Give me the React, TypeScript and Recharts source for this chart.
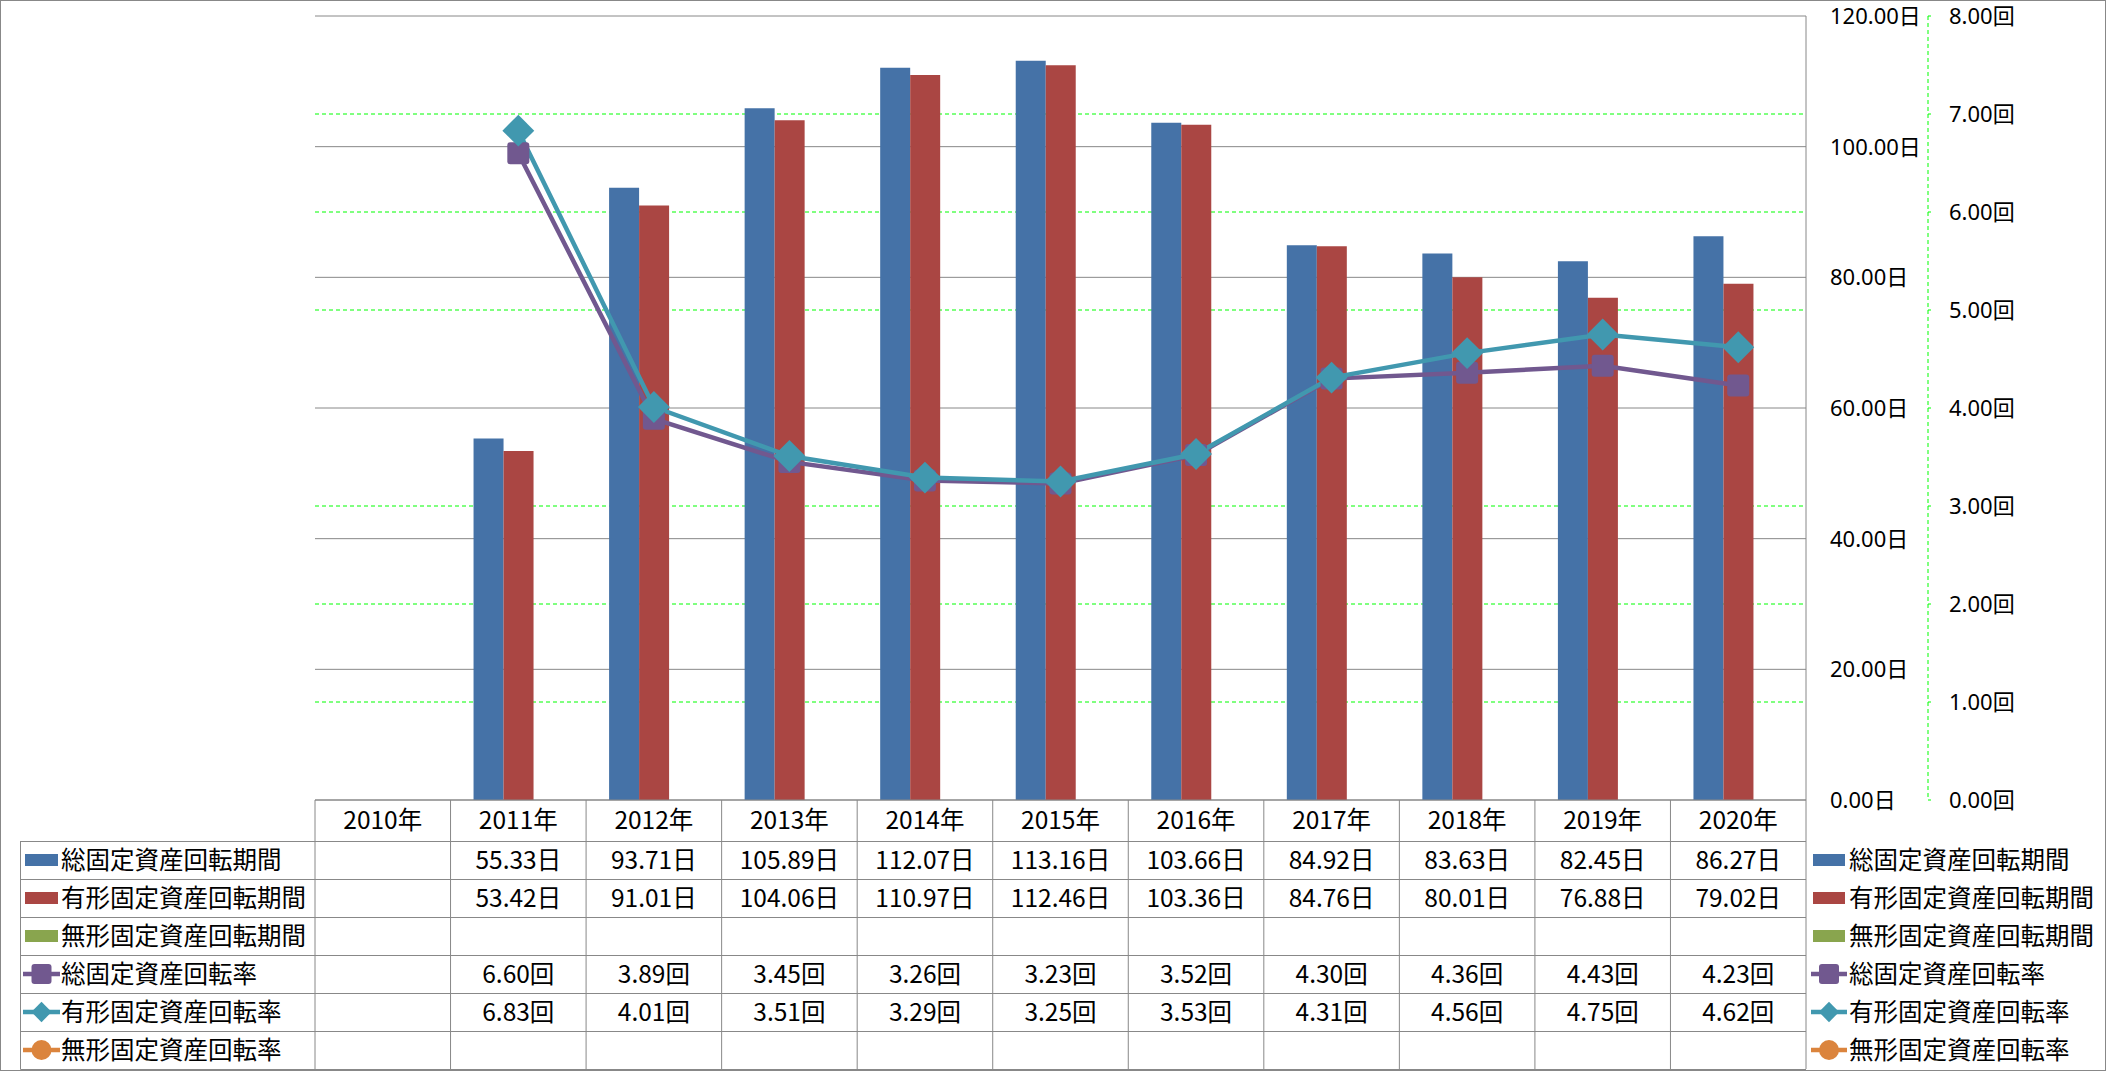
import React from 'react';
import { ComposedChart, Bar, Line, XAxis, YAxis, CartesianGrid } from 'recharts';

// ---------- data ----------
const years = ['2010年', '2011年', '2012年', '2013年', '2014年', '2015年', '2016年', '2017年', '2018年', '2019年', '2020年'];
const totalDays: (number | null)[] = [null, 55.33, 93.71, 105.89, 112.07, 113.16, 103.66, 84.92, 83.63, 82.45, 86.27];
const tangibleDays: (number | null)[] = [null, 53.42, 91.01, 104.06, 110.97, 112.46, 103.36, 84.76, 80.01, 76.88, 79.02];
const intangibleDays: (number | null)[] = [null, null, null, null, null, null, null, null, null, null, null];
const totalTurnover: (number | null)[] = [null, 6.6, 3.89, 3.45, 3.26, 3.23, 3.52, 4.3, 4.36, 4.43, 4.23];
const tangibleTurnover: (number | null)[] = [null, 6.83, 4.01, 3.51, 3.29, 3.25, 3.53, 4.31, 4.56, 4.75, 4.62];
const intangibleTurnover: (number | null)[] = [null, null, null, null, null, null, null, null, null, null, null];
const dayTicks = [0, 20, 40, 60, 80, 100, 120];
const timeTicks = [0, 1, 2, 3, 4, 5, 6, 7, 8];
const timeGridValues = [1, 2, 3, 5, 6, 7];

const seriesRows = [
  { name: '総固定資産回転期間', kind: 'bar', color: '#4572A7', values: totalDays, unit: '日' },
  { name: '有形固定資産回転期間', kind: 'bar', color: '#AA4643', values: tangibleDays, unit: '日' },
  { name: '無形固定資産回転期間', kind: 'bar', color: '#89A54E', values: intangibleDays, unit: '日' },
  { name: '総固定資産回転率', kind: 'square', color: '#71588F', values: totalTurnover, unit: '回' },
  { name: '有形固定資産回転率', kind: 'diamond', color: '#4198AF', values: tangibleTurnover, unit: '回' },
  { name: '無形固定資産回転率', kind: 'circle', color: '#DB843D', values: intangibleTurnover, unit: '回' },
];

const data = years.map((y, i) => ({
  year: y,
  totalDays: totalDays[i],
  tangibleDays: tangibleDays[i],
  intangibleDays: intangibleDays[i],
  totalTurnover: totalTurnover[i],
  tangibleTurnover: tangibleTurnover[i],
  intangibleTurnover: intangibleTurnover[i],
}));

// ---------- layout ----------
const W = 2106;
const H = 1071;
const PLOT_LEFT = 315;
const PLOT_RIGHT = 1806;
const PLOT_BOTTOM = 800;
const BAND = (PLOT_RIGHT - PLOT_LEFT) / years.length;
const ROW_LINES = [800, 841, 879, 917, 955, 993, 1031, 1069];
const rowCenter = (k: number) => (ROW_LINES[k] + ROW_LINES[k + 1]) / 2;
const GRAY = '#888888';
const GREEN = '#00FF00';
const TABLE_FONT = '"Noto Sans CJK JP", "Noto Sans", sans-serif';
const AXIS_FONT = '"Noto Sans", "Noto Sans CJK JP", sans-serif';
const TABLE_FS = 24.5;

const fmt = (v: number, unit: string) => v.toFixed(2) + unit;

// ---------- markers ----------
const markerShape = (kind: string, cx: number, cy: number, color: string, s: number) => {
  if (kind === 'square')
    return <rect x={cx - s} y={cy - s} width={2 * s} height={2 * s} rx={3} fill={color} />;
  if (kind === 'diamond')
    return (
      <polygon
        points={`${cx},${cy - s * 1.45} ${cx + s * 1.45},${cy} ${cx},${cy + s * 1.45} ${cx - s * 1.45},${cy}`}
        fill={color}
      />
    );
  return <circle cx={cx} cy={cy} r={s} fill={color} />;
};

const makeDot = (kind: string, color: string) => (props: any) => {
  const { cx, cy, index } = props;
  if (cx == null || cy == null || Number.isNaN(cx) || Number.isNaN(cy) || props.value == null)
    return <g key={`d-${kind}-${index}`} />;
  return <g key={`d-${kind}-${index}`}>{markerShape(kind, cx, cy, color, 11)}</g>;
};

// ---------- axis ticks ----------
const DaysTick = (props: any) => {
  const { x, y, payload } = props;
  return (
    <text x={x} y={y} dy="0.36em" textAnchor="start" fontFamily={AXIS_FONT} fontSize={22} fill="#000">
      {fmt(payload.value, '日')}
    </text>
  );
};

const TimesTick = (props: any) => {
  const { x, y, payload } = props;
  return (
    <text x={x} y={y} dy="0.36em" textAnchor="start" fontFamily={AXIS_FONT} fontSize={22} fill="#000">
      {fmt(payload.value, '回')}
    </text>
  );
};

// X axis tick draws one whole table column
const TableColumn = (props: any) => {
  const { x, payload } = props;
  const i: number = payload && payload.index != null ? payload.index : props.index;
  const left = x - BAND / 2;
  const right = x + BAND / 2;
  return (
    <g>
      <line x1={left} x2={left} y1={PLOT_BOTTOM} y2={1069} stroke={GRAY} strokeWidth={1} />
      {i === years.length - 1 && (
        <line x1={right} x2={right} y1={PLOT_BOTTOM} y2={1069} stroke={GRAY} strokeWidth={1} />
      )}
      <text x={x} y={rowCenter(0)} dy="0.36em" textAnchor="middle" fontFamily={TABLE_FONT} fontSize={TABLE_FS} fill="#000">
        {years[i]}
      </text>
      {seriesRows.map((r, k) => {
        const v = r.values[i];
        if (v == null) return null;
        return (
          <text
            key={r.name}
            x={x}
            y={rowCenter(k + 1)}
            dy="0.36em"
            textAnchor="middle"
            fontFamily={TABLE_FONT}
            fontSize={TABLE_FS}
            fill="#000"
          >
            {fmt(v, r.unit)}
          </text>
        );
      })}
    </g>
  );
};

// legend key (bar rect or line with marker)
const LegendKey = ({ kind, color, x1, x2, cy }: any) => {
  if (kind === 'bar') return <rect x={x1 + 2} y={cy - 6} width={x2 - x1 - 4} height={12} fill={color} />;
  const cx = (x1 + x2) / 2;
  return (
    <g>
      <line x1={x1} x2={x2} y1={cy} y2={cy} stroke={color} strokeWidth={4.5} />
      {markerShape(kind, cx, cy, color, kind === 'diamond' ? 7 : 10)}
    </g>
  );
};

const Overlay = () => (
  <svg
    width={W}
    height={H}
    style={{ position: 'absolute', left: 0, top: 0, pointerEvents: 'none' }}
  >
    <rect x={0.5} y={0.5} width={W - 1} height={H - 1} fill="none" stroke={GRAY} strokeWidth={1} />
    {ROW_LINES.slice(1).map((y) => (
      <line key={y} x1={20.5} x2={PLOT_RIGHT} y1={y + 0.5} y2={y + 0.5} stroke={GRAY} strokeWidth={1} />
    ))}
    <line x1={20.5} x2={20.5} y1={841} y2={1069.5} stroke={GRAY} strokeWidth={1} />
    {seriesRows.map((r, k) => {
      const cy = rowCenter(k + 1);
      return (
        <g key={r.name}>
          <LegendKey kind={r.kind} color={r.color} x1={23} x2={60} cy={cy} />
          <text x={61} y={cy} dy="0.36em" fontFamily={TABLE_FONT} fontSize={TABLE_FS} fill="#000">
            {r.name}
          </text>
          <LegendKey kind={r.kind} color={r.color} x1={1811} x2={1847} cy={cy} />
          <text x={1849} y={cy} dy="0.36em" fontFamily={TABLE_FONT} fontSize={TABLE_FS} fill="#000">
            {r.name}
          </text>
        </g>
      );
    })}
  </svg>
);

export default function App() {
  return (
    <div style={{ position: 'absolute', left: 0, top: 0, width: W, height: H, background: '#fff' }}>
      <ComposedChart
        width={W}
        height={H}
        data={data}
        margin={{ top: 16, right: 0, bottom: 1, left: PLOT_LEFT }}
        barGap={0}
      >
        <CartesianGrid yAxisId="days" vertical={false} stroke={GRAY} strokeWidth={1} />
        <CartesianGrid
          yAxisId="times"
          vertical={false}
          horizontalValues={timeGridValues}
          stroke={GREEN}
          strokeDasharray="4 3"
          strokeWidth={1}
        />
        <XAxis
          dataKey="year"
          interval={0}
          height={270}
          axisLine={{ stroke: GRAY, strokeWidth: 1 }}
          tickLine={false}
          tickSize={0}
          tickMargin={0}
          tick={(p: any) => <TableColumn {...p} />}
        />
        <YAxis
          yAxisId="days"
          orientation="right"
          width={122}
          domain={[0, 120]}
          ticks={dayTicks}
          interval={0}
          axisLine={{ stroke: GRAY, strokeWidth: 1 }}
          tickLine={false}
          tickSize={0}
          tickMargin={24}
          tick={(p: any) => <DaysTick {...p} />}
        />
        <YAxis
          yAxisId="times"
          orientation="right"
          width={178}
          domain={[0, 8]}
          ticks={timeTicks}
          interval={0}
          axisLine={{ stroke: GREEN, strokeWidth: 1, strokeDasharray: '4 3' }}
          tickLine={{ stroke: GREEN, strokeWidth: 1 }}
          tickSize={3}
          tickMargin={18}
          tick={(p: any) => <TimesTick {...p} />}
        />
        <Bar yAxisId="days" dataKey="totalDays" name="総固定資産回転期間" fill="#4572A7" barSize={30} isAnimationActive={false} />
        <Bar yAxisId="days" dataKey="tangibleDays" name="有形固定資産回転期間" fill="#AA4643" barSize={30} isAnimationActive={false} />
        <Bar yAxisId="days" dataKey="intangibleDays" name="無形固定資産回転期間" fill="#89A54E" barSize={30} isAnimationActive={false} />
        <Line
          yAxisId="times"
          dataKey="totalTurnover"
          name="総固定資産回転率"
          stroke="#71588F"
          strokeWidth={4.5}
          dot={makeDot('square', '#71588F')}
          activeDot={false}
          isAnimationActive={false}
        />
        <Line
          yAxisId="times"
          dataKey="tangibleTurnover"
          name="有形固定資産回転率"
          stroke="#4198AF"
          strokeWidth={4.5}
          dot={makeDot('diamond', '#4198AF')}
          activeDot={false}
          isAnimationActive={false}
        />
        <Line
          yAxisId="times"
          dataKey="intangibleTurnover"
          name="無形固定資産回転率"
          stroke="#DB843D"
          strokeWidth={4.5}
          dot={makeDot('circle', '#DB843D')}
          activeDot={false}
          isAnimationActive={false}
        />
      </ComposedChart>
      <Overlay />
    </div>
  );
}
